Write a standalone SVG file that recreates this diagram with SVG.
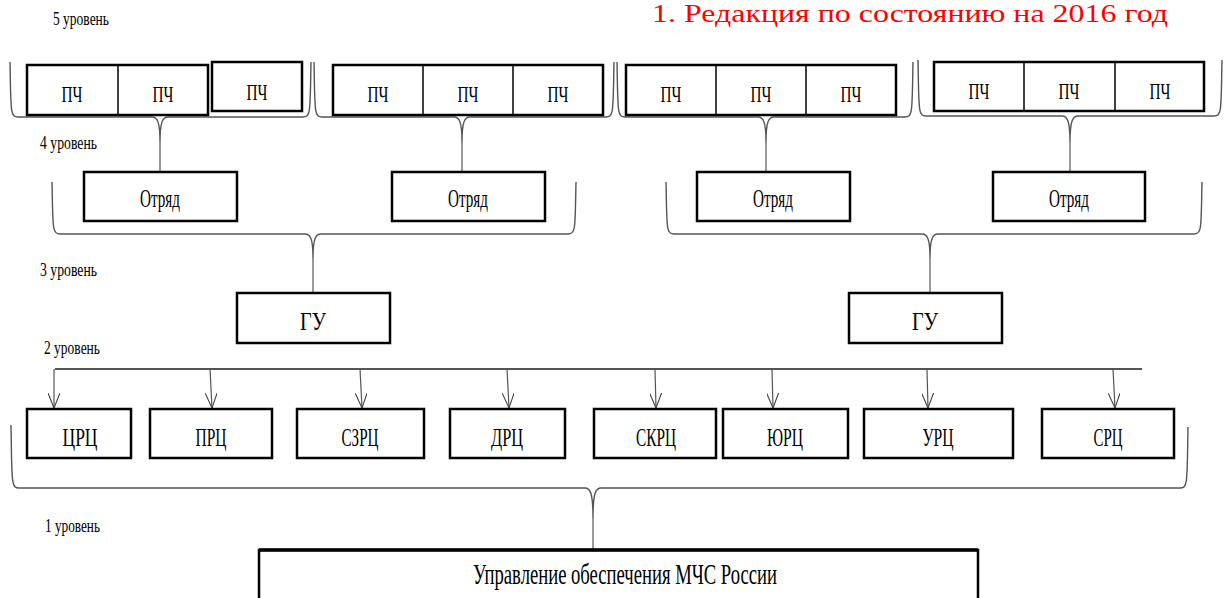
<svg xmlns="http://www.w3.org/2000/svg" width="1225" height="598" viewBox="0 0 1225 598" font-family="Liberation Serif, Times New Roman, serif">
  <style>
    .box { fill: #fff; stroke: #000; stroke-width: 2.5; }
    .div { stroke: #000; stroke-width: 1.5; }
    .t { fill: #000; text-anchor: middle; }
    .lvl { font-size: 19px; fill: #000; }
    .brace { fill: none; stroke: #555; stroke-width: 1.4; }
    .line { fill: none; stroke: #555; stroke-width: 1.2; }
    .bus { stroke: #555; stroke-width: 2; }
  </style>
  <defs>
    <marker id="arr" viewBox="0 0 16 12" refX="15" refY="6" markerWidth="16" markerHeight="12" markerUnits="userSpaceOnUse" orient="auto">
      <path d="M0,0 L15,6 L0,12" fill="none" stroke="#444" stroke-width="1.1"/>
    </marker>
  </defs>

  <rect width="1225" height="598" fill="#fff"/>

  <!-- title and level labels -->
  <text x="652" y="22" font-size="26" fill="#f00" textLength="516" lengthAdjust="spacingAndGlyphs">1. Редакция по состоянию на 2016 год</text>
  <text class="lvl" x="53" y="25" textLength="56" lengthAdjust="spacingAndGlyphs">5 уровень</text>
  <text class="lvl" x="40" y="149" textLength="57" lengthAdjust="spacingAndGlyphs">4 уровень</text>
  <text class="lvl" x="40" y="276" textLength="57" lengthAdjust="spacingAndGlyphs">3 уровень</text>
  <text class="lvl" x="44" y="354" textLength="56" lengthAdjust="spacingAndGlyphs">2 уровень</text>
  <text class="lvl" x="45" y="532" textLength="55" lengthAdjust="spacingAndGlyphs">1 уровень</text>

  <!-- connectors: braces, trunk lines and arrows -->
  <g id="connectors">
    <path class="brace" d="M10,62 C11,111 10,117 18,117 L152,117 C157,117 160,121 160,142 C160,121 163,117 168,117 L303,117 C311,117 310,111 311,62"/>
    <path class="brace" d="M314,62 C315,111 314,117 322,117 L454,117 C459,117 462,121 462,142 C462,121 465,117 470,117 L606,117 C614,117 613,111 614,62"/>
    <path class="brace" d="M617,62 C618,111 617,117 625,117 L758,117 C763,117 766,121 766,142 C766,121 769,117 774,117 L905,117 C913,117 912,111 913,62"/>
    <path class="brace" d="M918,60 C919,110 918,116 926,116 L1062,116 C1067,116 1070,120 1070,142 C1070,120 1073,116 1078,116 L1214,116 C1222,116 1221,110 1222,60"/>
    <line class="line" x1="160" y1="142" x2="160" y2="172"/>
    <line class="line" x1="462" y1="142" x2="462" y2="172"/>
    <line class="line" x1="766" y1="142" x2="766" y2="172"/>
    <line class="line" x1="1070" y1="142" x2="1070" y2="172"/>

    <path class="brace" d="M52,182 C53,228 52,234 60,234 L305,234 C310,234 313,238 313,258 C313,238 316,234 321,234 L568,234 C576,234 575,228 576,182"/>
    <path class="brace" d="M666,182 C667,228 666,234 674,234 L922,234 C927,234 930,238 930,258 C930,238 933,234 938,234 L1194,234 C1202,234 1201,228 1202,182"/>
    <line class="line" x1="313" y1="258" x2="313" y2="293"/>
    <line class="line" x1="930" y1="258" x2="930" y2="293"/>

    <line class="bus" x1="55" y1="369" x2="1142" y2="369"/>
    <line class="line" x1="54" y1="369" x2="54" y2="408" marker-end="url(#arr)"/>
    <line class="line" x1="210" y1="369" x2="212" y2="408" marker-end="url(#arr)"/>
    <line class="line" x1="360" y1="369" x2="362" y2="408" marker-end="url(#arr)"/>
    <line class="line" x1="507" y1="369" x2="509" y2="408" marker-end="url(#arr)"/>
    <line class="line" x1="655" y1="369" x2="656" y2="408" marker-end="url(#arr)"/>
    <line class="line" x1="772" y1="369" x2="773" y2="408" marker-end="url(#arr)"/>
    <line class="line" x1="927" y1="369" x2="928" y2="408" marker-end="url(#arr)"/>
    <line class="line" x1="1113" y1="369" x2="1115" y2="408" marker-end="url(#arr)"/>

    <path class="brace" d="M11,425 C12,482 11,488 19,488 L585,488 C590,488 593,492 593,518 C593,492 596,488 601,488 L1180,488 C1188,488 1187,482 1188,427"/>
    <line class="line" x1="593" y1="518" x2="593" y2="550"/>
  </g>

  <!-- level 5: fire stations -->
  <g id="pch-group-1">
    <rect class="box" x="27" y="65" width="181" height="50"/>
    <line class="div" x1="118" y1="65" x2="118" y2="115"/>
    <text class="t" x="72" y="102" font-size="23" textLength="21" lengthAdjust="spacingAndGlyphs">ПЧ</text>
    <text class="t" x="163" y="102" font-size="23" textLength="21" lengthAdjust="spacingAndGlyphs">ПЧ</text>
  </g>
  <g id="pch-single">
    <rect class="box" x="212" y="62" width="90" height="49"/>
    <text class="t" x="257" y="100" font-size="23" textLength="21" lengthAdjust="spacingAndGlyphs">ПЧ</text>
  </g>
  <g id="pch-group-2">
    <rect class="box" x="333" y="65" width="270" height="50"/>
    <line class="div" x1="423" y1="65" x2="423" y2="115"/>
    <line class="div" x1="513" y1="65" x2="513" y2="115"/>
    <text class="t" x="378" y="102" font-size="23" textLength="21" lengthAdjust="spacingAndGlyphs">ПЧ</text>
    <text class="t" x="468" y="102" font-size="23" textLength="21" lengthAdjust="spacingAndGlyphs">ПЧ</text>
    <text class="t" x="558" y="102" font-size="23" textLength="21" lengthAdjust="spacingAndGlyphs">ПЧ</text>
  </g>
  <g id="pch-group-3">
    <rect class="box" x="626" y="65" width="270" height="50"/>
    <line class="div" x1="716" y1="65" x2="716" y2="115"/>
    <line class="div" x1="806" y1="65" x2="806" y2="115"/>
    <text class="t" x="671" y="102" font-size="23" textLength="21" lengthAdjust="spacingAndGlyphs">ПЧ</text>
    <text class="t" x="761" y="102" font-size="23" textLength="21" lengthAdjust="spacingAndGlyphs">ПЧ</text>
    <text class="t" x="851" y="102" font-size="23" textLength="21" lengthAdjust="spacingAndGlyphs">ПЧ</text>
  </g>
  <g id="pch-group-4">
    <rect class="box" x="934" y="62" width="270" height="49"/>
    <line class="div" x1="1024" y1="62" x2="1024" y2="111"/>
    <line class="div" x1="1115" y1="62" x2="1115" y2="111"/>
    <text class="t" x="979" y="99" font-size="23" textLength="21" lengthAdjust="spacingAndGlyphs">ПЧ</text>
    <text class="t" x="1069" y="99" font-size="23" textLength="21" lengthAdjust="spacingAndGlyphs">ПЧ</text>
    <text class="t" x="1160" y="99" font-size="23" textLength="21" lengthAdjust="spacingAndGlyphs">ПЧ</text>
  </g>

  <!-- level 4: detachments -->
  <g id="otryad-1">
    <rect class="box" x="84" y="172" width="153" height="49"/>
    <text class="t" x="160" y="207" font-size="25" textLength="40" lengthAdjust="spacingAndGlyphs">Отряд</text>
  </g>
  <g id="otryad-2">
    <rect class="box" x="392" y="172" width="153" height="49"/>
    <text class="t" x="468" y="207" font-size="25" textLength="40" lengthAdjust="spacingAndGlyphs">Отряд</text>
  </g>
  <g id="otryad-3">
    <rect class="box" x="697" y="172" width="153" height="49"/>
    <text class="t" x="773" y="207" font-size="25" textLength="40" lengthAdjust="spacingAndGlyphs">Отряд</text>
  </g>
  <g id="otryad-4">
    <rect class="box" x="993" y="172" width="152" height="49"/>
    <text class="t" x="1069" y="207" font-size="25" textLength="40" lengthAdjust="spacingAndGlyphs">Отряд</text>
  </g>

  <!-- level 3: main departments -->
  <g id="gu-1">
    <rect class="box" x="237" y="293" width="153" height="50"/>
    <text class="t" x="313" y="330" font-size="25" textLength="26" lengthAdjust="spacingAndGlyphs">ГУ</text>
  </g>
  <g id="gu-2">
    <rect class="box" x="849" y="293" width="153" height="50"/>
    <text class="t" x="925" y="330" font-size="25" textLength="26" lengthAdjust="spacingAndGlyphs">ГУ</text>
  </g>

  <!-- level 2: regional centres -->
  <g id="crc">
    <rect class="box" x="27" y="409" width="104" height="49"/>
    <text class="t" x="80" y="446" font-size="26" textLength="35" lengthAdjust="spacingAndGlyphs">ЦРЦ</text>
  </g>
  <g id="prc">
    <rect class="box" x="150" y="409" width="122" height="49"/>
    <text class="t" x="211" y="446" font-size="26" textLength="31" lengthAdjust="spacingAndGlyphs">ПРЦ</text>
  </g>
  <g id="szrc">
    <rect class="box" x="297" y="409" width="127" height="49"/>
    <text class="t" x="360" y="446" font-size="26" textLength="37" lengthAdjust="spacingAndGlyphs">СЗРЦ</text>
  </g>
  <g id="drc">
    <rect class="box" x="450" y="409" width="115" height="49"/>
    <text class="t" x="507" y="446" font-size="26" textLength="32" lengthAdjust="spacingAndGlyphs">ДРЦ</text>
  </g>
  <g id="skrc">
    <rect class="box" x="594" y="409" width="122" height="49"/>
    <text class="t" x="656" y="446" font-size="26" textLength="40" lengthAdjust="spacingAndGlyphs">СКРЦ</text>
  </g>
  <g id="yurc">
    <rect class="box" x="723" y="409" width="125" height="49"/>
    <text class="t" x="785" y="446" font-size="26" textLength="36" lengthAdjust="spacingAndGlyphs">ЮРЦ</text>
  </g>
  <g id="urc">
    <rect class="box" x="864" y="409" width="149" height="49"/>
    <text class="t" x="938" y="446" font-size="26" textLength="31" lengthAdjust="spacingAndGlyphs">УРЦ</text>
  </g>
  <g id="src">
    <rect class="box" x="1042" y="409" width="132" height="49"/>
    <text class="t" x="1108" y="446" font-size="26" textLength="29" lengthAdjust="spacingAndGlyphs">СРЦ</text>
  </g>

  <!-- level 1: head office -->
  <g id="head">
    <rect class="box" x="259" y="550" width="719" height="60" stroke-width="2"/>
    <line x1="259" y1="550" x2="978" y2="550" stroke="#000" stroke-width="3.5"/>
    <text class="t" x="625" y="584" font-size="30" textLength="304" lengthAdjust="spacingAndGlyphs">Управление обеспечения МЧС России</text>
  </g>
</svg>
